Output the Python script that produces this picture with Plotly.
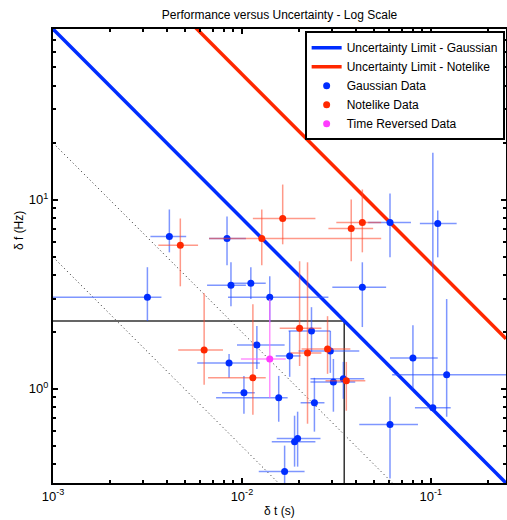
import plotly.graph_objects as go
import numpy as np

# ---------------- data ----------------
# Gaussian data: delta t (s), delta f (Hz), and error-bar extents
gauss_dt = [0.00316, 0.00413, 0.00834, 0.00875, 0.01115, 0.01404, 0.02335, 0.0120,
            0.00855, 0.0179, 0.02938, 0.01025, 0.01566, 0.0242, 0.0305, 0.03443,
            0.01972, 0.0190, 0.01683, 0.0608, 0.1088, 0.0434, 0.0804, 0.1213,
            0.1025, 0.0608]
gauss_df = [3.05, 6.38, 6.23, 3.53, 3.61, 3.05, 2.02, 1.705,
            1.37, 1.492, 1.585, 0.953, 0.897, 0.844, 1.088, 1.129,
            0.546, 0.526, 0.366, 7.57, 7.48, 3.44, 1.456, 1.185,
            0.794, 0.647]
gauss_dt_lo = [0.001, 0.00328, 0.0067, 0.00654, 0.00855, 0.00844, 0.01767, 0.00942,
               0.0058, 0.0151, 0.01995, 0.00785, 0.0073, 0.02045, 0.02307, 0.02307,
               0.01528, 0.01439, 0.01228, 0.0466, 0.0875, 0.0301, 0.0608, 0.0624,
               0.0824, 0.0418]
gauss_dt_hi = [0.00375, 0.00507, 0.0105, 0.0105, 0.01337, 0.0287, 0.0294, 0.01683,
               0.01244, 0.02045, 0.0418, 0.0117, 0.01746, 0.02735, 0.0398, 0.0444,
               0.02606, 0.02449, 0.02146, 0.0785, 0.137, 0.058, 0.1088, 0.26,
               0.1274, 0.0855]
gauss_df_lo = [2.28, 5.26, 4.49, 2.73, 2.98, 2.25, 1.566, 1.274,
               1.143, 1.157, 1.214, 0.738, 0.67, 0.594, 0.757, 0.886,
               0.388, 0.388, 0.30, 4.95, 4.95, 2.12, 1.0, 0.712,
               0.757, 0.336]
gauss_df_hi = [4.39, 8.86, 8.14, 4.66, 4.39, 3.93, 2.70, 2.15,
               1.528, 2.02, 2.02, 1.17, 1.17, 1.143, 1.438, 1.387,
               0.757, 0.721, 0.501, 10.76, 8.75, 4.66, 2.17, 2.98,
               17.67, 0.908]

# Notelike data
note_dt = [0.00472, 0.01274, 0.01644, 0.0379, 0.0434, 0.00631, 0.01143, 0.0202,
           0.02225, 0.0284, 0.0357]
note_df = [5.73, 6.23, 7.94, 7.04, 7.57, 1.604, 1.143, 2.09,
           1.546, 1.624, 1.102]
note_dt_lo = [0.00361, 0.0067, 0.01143, 0.0287, 0.0316, 0.0046, 0.00662, 0.01585,
              0.0181, 0.0207, 0.0277]
note_dt_hi = [0.00586, 0.0546, 0.0245, 0.0495, 0.0546, 0.00794, 0.01337, 0.02636,
              0.02636, 0.0375, 0.045]
note_df_lo = [3.48, 4.49, 5.8, 4.72, 5.26, 1.05, 0.73, 1.32,
              0.654, 1.2, 0.766]
note_df_hi = [7.94, 8.86, 12.0, 10.0, 11.3, 3.2, 2.8, 4.72,
              4.66, 2.42, 1.387]

# Time reversed data
rev_dt = [0.01404]
rev_df = [1.438]
rev_dt_lo = [0.00988]
rev_dt_hi = [0.01706]
rev_df_lo = [0.897]
rev_df_hi = [2.98]

# Uncertainty limit lines (end points)
gauss_lim_dt = [0.001, 0.25]
gauss_lim_df = [79.6, 0.318]
note_lim_dt = [0.005, 0.25]
note_lim_df = [92.0, 1.84]
# dotted reference lines
dot1_dt = [0.001, 0.0627]
dot1_df = [19.9, 0.318]
dot2_dt = [0.001, 0.0156]
dot2_df = [4.97, 0.318]
# box
box_dt = [0.001, 0.0348, 0.0348]
box_df = [2.28, 2.28, 0.318]

x_range = [0.001, 0.25]
y_range = [0.318, 79.6]
x_tickvals = [0.001, 0.01, 0.1]
x_ticktext = ["10<sup>-3</sup>", "10<sup>-2</sup>", "10<sup>-1</sup>"]
y_tickvals = [1, 10]
y_ticktext = ["10<sup>0</sup>", "10<sup>1</sup>"]


def errs(v, lo, hi):
    v = np.array(v); lo = np.array(lo); hi = np.array(hi)
    return list(hi - v), list(v - lo)


FONT = "Liberation Sans, Arial, Helvetica, sans-serif"
BLUE = "rgb(0,45,255)"
RED = "rgb(255,40,0)"
MAG = "rgb(255,60,255)"

fig = go.Figure()

# box and dotted lines (no legend)
fig.add_trace(go.Scatter(x=dot1_dt, y=dot1_df, mode="lines", showlegend=False,
                         line=dict(color="#222222", width=1, dash="1px,3px"), hoverinfo="skip"))
fig.add_trace(go.Scatter(x=dot2_dt, y=dot2_df, mode="lines", showlegend=False,
                         line=dict(color="#222222", width=1, dash="1px,3px"), hoverinfo="skip"))
fig.add_trace(go.Scatter(x=box_dt, y=box_df, mode="lines", showlegend=False,
                         line=dict(color="#333333", width=1.5), hoverinfo="skip"))

fig.add_trace(go.Scatter(x=gauss_lim_dt, y=gauss_lim_df, mode="lines",
                         name="Uncertainty Limit - Gaussian",
                         line=dict(color=BLUE, width=3.5)))
fig.add_trace(go.Scatter(x=note_lim_dt, y=note_lim_df, mode="lines",
                         name="Uncertainty Limit - Notelike",
                         line=dict(color=RED, width=3.5)))

ex_p, ex_m = errs(gauss_dt, gauss_dt_lo, gauss_dt_hi)
ey_p, ey_m = errs(gauss_df, gauss_df_lo, gauss_df_hi)
fig.add_trace(go.Scatter(x=gauss_dt, y=gauss_df, mode="markers", name="Gaussian Data",
                         marker=dict(color=BLUE, size=7),
                         error_x=dict(type="data", array=ex_p, arrayminus=ex_m, width=0,
                                      color="rgba(40,80,255,0.6)", thickness=1.5),
                         error_y=dict(type="data", array=ey_p, arrayminus=ey_m, width=0,
                                      color="rgba(40,80,255,0.6)", thickness=1.5)))

ex_p, ex_m = errs(note_dt, note_dt_lo, note_dt_hi)
ey_p, ey_m = errs(note_df, note_df_lo, note_df_hi)
fig.add_trace(go.Scatter(x=note_dt, y=note_df, mode="markers", name="Notelike Data",
                         marker=dict(color=RED, size=7),
                         error_x=dict(type="data", array=ex_p, arrayminus=ex_m, width=0,
                                      color="rgba(255,70,40,0.55)", thickness=1.5),
                         error_y=dict(type="data", array=ey_p, arrayminus=ey_m, width=0,
                                      color="rgba(255,70,40,0.55)", thickness=1.5)))

ex_p, ex_m = errs(rev_dt, rev_dt_lo, rev_dt_hi)
ey_p, ey_m = errs(rev_df, rev_df_lo, rev_df_hi)
fig.add_trace(go.Scatter(x=rev_dt, y=rev_df, mode="markers", name="Time Reversed Data",
                         marker=dict(color=MAG, size=7),
                         error_x=dict(type="data", array=ex_p, arrayminus=ex_m, width=0,
                                      color="rgba(255,100,255,0.7)", thickness=1.5),
                         error_y=dict(type="data", array=ey_p, arrayminus=ey_m, width=0,
                                      color="rgba(255,100,255,0.7)", thickness=1.5)))

minor_x = [k * 10.0 ** n for n in (-3, -2, -1) for k in range(2, 10)]
minor_y = [k * 10.0 ** n for n in (-1, 0, 1) for k in range(2, 10)]

axis_common = dict(type="log", showgrid=False, automargin=False,
                   zeroline=False, showline=True, linecolor="black", linewidth=2,
                   mirror="ticks", ticks="inside", ticklen=5, tickwidth=2,
                   tickcolor="black", tickfont=dict(family=FONT, size=13, color="black"))

fig.update_layout(
    width=507, height=520,
    margin=dict(l=53, r=1, t=29, b=37),
    paper_bgcolor="white", plot_bgcolor="white",
    font=dict(family=FONT, size=12, color="black"),
    title=dict(text="Performance versus Uncertainty - Log Scale", x=0.5, xref="paper",
               xanchor="center", y=1 - 15 / 520, yanchor="middle",
               font=dict(family=FONT, size=12, color="black")),
    xaxis=dict(range=[np.log10(x_range[0]), np.log10(x_range[1])],
               tickmode="array", tickvals=x_tickvals, ticktext=x_ticktext,
               minor=dict(tickvals=minor_x, ticks="inside", ticklen=3, tickwidth=1.5,
                          tickcolor="black"),
               **axis_common),
    yaxis=dict(range=[np.log10(y_range[0]), np.log10(y_range[1])],
               tickmode="array", tickvals=y_tickvals, ticktext=y_ticktext,
               minor=dict(tickvals=minor_y, ticks="inside", ticklen=3, tickwidth=1.5,
                          tickcolor="black"),
               **axis_common),
    legend=dict(x=0.997, y=0.995, xanchor="right", yanchor="top",
                bgcolor="white", bordercolor="black", borderwidth=2,
                font=dict(family=FONT, size=12, color="black"),
                tracegroupgap=0, itemwidth=30),
    showlegend=True,
    annotations=[
        dict(text="δ t (s)", xref="paper", yref="paper", x=0.5, y=-0.062,
             xanchor="center", yanchor="middle", showarrow=False,
             font=dict(family=FONT, size=12)),
        dict(text="δ f (Hz)", xref="paper", yref="paper", x=-0.075, y=0.555,
             xanchor="center", yanchor="middle", showarrow=False, textangle=-90,
             font=dict(family=FONT, size=12)),
    ],
)

fig.write_html("out.html", config={"displayModeBar": False},
               post_script="document.body.style.margin='0px'; document.body.style.overflow='hidden';")
